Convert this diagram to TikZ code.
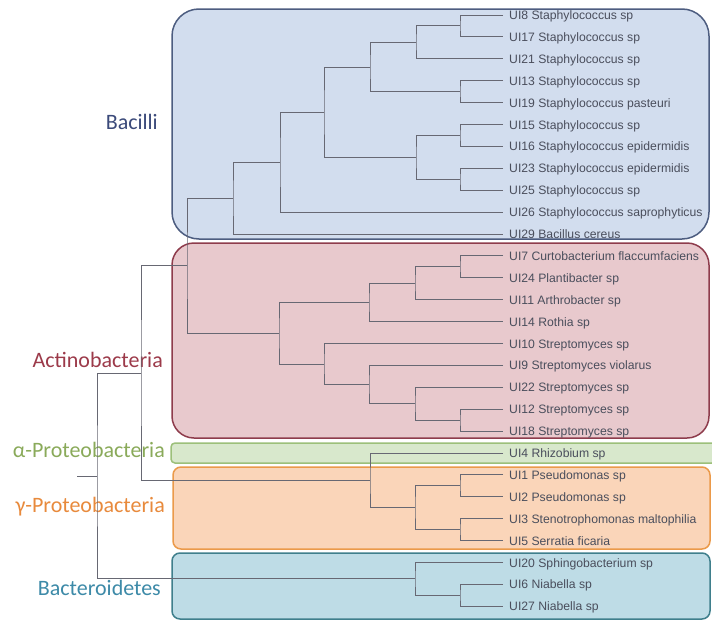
\documentclass[tikz,border=0pt]{standalone}
\usepackage{fontspec}
\setmainfont{Liberation Sans}
\newfontfamily\labfont{Carlito}
\usetikzlibrary{calc}
\definecolor{treegray}{HTML}{676873}
\definecolor{leafgray}{HTML}{4A4E5C}
\definecolor{bacB}{HTML}{4D5D80}\definecolor{bacF}{HTML}{D2DDEE}
\definecolor{actB}{HTML}{8E3C4C}\definecolor{actF}{HTML}{E8C9CD}
\definecolor{alpB}{HTML}{9CC07A}\definecolor{alpF}{HTML}{D8E8CC}
\definecolor{gamB}{HTML}{EB9A4A}\definecolor{gamF}{HTML}{FAD5B9}
\definecolor{bctB}{HTML}{3F7F8C}\definecolor{bctF}{HTML}{BEDCE6}
\definecolor{bacT}{HTML}{3B4A7A}
\definecolor{actT}{HTML}{9C3A4A}
\definecolor{alpT}{HTML}{8AAA5A}
\definecolor{gamT}{HTML}{E88A3C}
\definecolor{bctT}{HTML}{3D8AA8}
\newcommand\tjoin[4]{%
  \coordinate (#1m) at ($(#3)!0.5!(#4)$);
  \coordinate (#1) at (#2,0 |- #1m);
  \draw[tree] (#3) -| (#1) |- (#4);
}
\begin{document}
\begin{tikzpicture}[x=1pt,y=-1pt,
  tree/.style={draw=treegray,line width=0.95pt},
  leaflab/.style={anchor=west,inner sep=0pt,text height=9pt,text depth=0pt,font=\fontsize{12.2}{12}\selectfont,text=leafgray},
  grouplab/.style={anchor=base east,inner sep=0pt,font=\labfont\fontsize{22}{22}\selectfont},
  groupbox/.style={line width=1.5pt}]
\fill[white] (0,0) rectangle (712,621);
\useasboundingbox (0,0) rectangle (712,621);
% group boxes
\draw[groupbox,draw=bacB,fill=bacF,rounded corners=27pt] (172,9) rectangle (709,239);
\draw[groupbox,draw=actB,fill=actF,rounded corners=22pt] (172,243) rectangle (709,438);
\draw[groupbox,draw=alpB,fill=alpF,rounded corners=4pt] (171,443) rectangle (716,463);
\draw[groupbox,draw=gamB,fill=gamF,rounded corners=8pt] (173,467) rectangle (710,549);
\draw[groupbox,draw=bctB,fill=bctF,rounded corners=8pt] (172,553) rectangle (710,619);
% group labels
\node[grouplab,text=bacT] (gBac) at (158,129) {Bacilli};
\node[grouplab,text=actT] (gAct) at (163,367) {Actinobacteria};
\node[grouplab,text=alpT] (gAlp) at (165,457) {α-Proteobacteria};
\node[grouplab,text=gamT] (gGam) at (165,512) {γ-Proteobacteria};
\node[grouplab,text=bctT] (gBct) at (161,595) {Bacteroidetes};
% leaves
\foreach \i/\t in {0/{UI8 Staphylococcus sp},1/{UI17 Staphylococcus sp},2/{UI21 Staphylococcus sp},
  3/{UI13 Staphylococcus sp},4/{UI19 Staphylococcus pasteuri},5/{UI15 Staphylococcus sp},
  6/{UI16 Staphylococcus epidermidis},7/{UI23 Staphylococcus epidermidis},8/{UI25 Staphylococcus sp},
  9/{UI26 Staphylococcus saprophyticus},10/{UI29 Bacillus cereus},11/{UI7 Curtobacterium flaccumfaciens},
  12/{UI24 Plantibacter sp},13/{UI11 Arthrobacter sp},14/{UI14 Rothia sp},15/{UI10 Streptomyces sp},
  16/{UI9 Streptomyces violarus},17/{UI22 Streptomyces sp},18/{UI12 Streptomyces sp},
  19/{UI18 Streptomyces sp},20/{UI4 Rhizobium sp},21/{UI1 Pseudomonas sp},22/{UI2 Pseudomonas sp},
  23/{UI3 Stenotrophomonas maltophilia},24/{UI5 Serratia ficaria},25/{UI20 Sphingobacterium sp},
  26/{UI6 Niabella sp},27/{UI27 Niabella sp}}{
  \coordinate (l\i) at (503,{15+\i*21.9});
  \node[leaflab] (n\i) at (509,{15+\i*21.9}) {\t};
}
% Bacilli
\tjoin{a1}{460}{l0}{l1}
\tjoin{a2}{416}{a1}{l2}
\tjoin{a3}{460}{l3}{l4}
\tjoin{a4}{370}{a2}{a3}
\tjoin{a5}{460}{l5}{l6}
\tjoin{a6}{460}{l7}{l8}
\tjoin{a7}{416}{a5}{a6}
\tjoin{a8}{324}{a4}{a7}
\tjoin{a9}{280}{a8}{l9}
\tjoin{a10}{233}{a9}{l10}
% Actinobacteria
\tjoin{b1}{460}{l11}{l12}
\tjoin{b2}{415}{b1}{l13}
\tjoin{b3}{369}{b2}{l14}
\tjoin{b4}{460}{l18}{l19}
\tjoin{b5}{415}{l17}{b4}
\tjoin{b6}{369}{l16}{b5}
\tjoin{b7}{324}{l15}{b6}
\tjoin{b8}{279}{b3}{b7}
\tjoin{c1}{187}{a10}{b8}
% Proteobacteria
\tjoin{d1}{460}{l21}{l22}
\tjoin{d2}{460}{l23}{l24}
\tjoin{d3}{415}{d1}{d2}
\tjoin{d4}{370}{l20}{d3}
\tjoin{c2}{141}{c1}{d4}
% Bacteroidetes
\tjoin{e1}{460}{l26}{l27}
\tjoin{e2}{415}{l25}{e1}
\tjoin{root}{97}{c2}{e2}
\coordinate (stub) at (77,0 |- root);
\draw[tree] (root) -- (stub);
\end{tikzpicture}
\end{document}
